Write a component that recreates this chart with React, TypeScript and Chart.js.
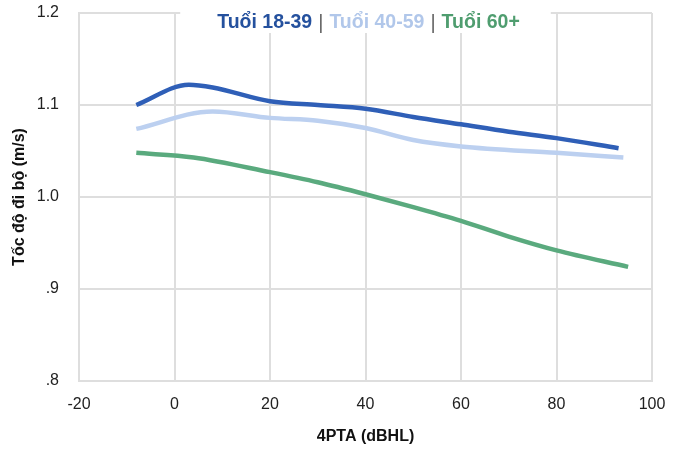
import React, { useEffect, useRef } from "react";
import { Chart, registerables, Plugin } from "chart.js";

Chart.register(...registerables);

const seriesLabels = ["Tuổi 18-39", "Tuổi 40-59", "Tuổi 60+"];
const lineColors = ["#2f5fb7", "#bcd0f0", "#5aaa7e"];
const textColors = ["#25519e", "#b1c7ea", "#4f9d6f"];

const xYoung = [-8, 3, 8, 20, 30, 40, 50, 60, 70, 80, 93];
const yYoung = [1.1, 1.122, 1.119, 1.104, 1.1, 1.096, 1.087, 1.079, 1.071, 1.064, 1.053];

const xMiddle = [-8, 8, 20, 30, 40, 50, 60, 80, 94];
const yMiddle = [1.074, 1.093, 1.086, 1.083, 1.075, 1.062, 1.055, 1.048, 1.043];

const xOld = [-8, 4, 20, 30, 40, 50, 60, 70, 80, 95];
const yOld = [1.048, 1.043, 1.027, 1.016, 1.003, 0.989, 0.974, 0.957, 0.942, 0.924];

const xTicks = [-20, 0, 20, 40, 60, 80, 100];
const yTicks = [0.8, 0.9, 1.0, 1.1, 1.2];

const FONT = "'Liberation Sans', Arial, Helvetica, sans-serif";

const toPoints = (xs: number[], ys: number[]) => xs.map((x, i) => ({ x, y: ys[i] }));

// legend drawn on top of the plot with a white box behind it
const topLegend: Plugin<"line"> = {
  id: "topLegend",
  afterDraw(chart) {
    const { ctx, chartArea } = chart;
    ctx.save();
    const boldFont = `bold 19.5px ${FONT}`;
    const sepFont = `20px ${FONT}`;
    const gap = 6;
    ctx.font = boldFont;
    const widths = seriesLabels.map((s) => ctx.measureText(s).width);
    ctx.font = sepFont;
    const sepW = ctx.measureText("|").width;
    const total = widths.reduce((a, b) => a + b, 0) + 2 * (sepW + 2 * gap);
    const cx = (chartArea.left + chartArea.right) / 2 + 3;
    let x = cx - total / 2;
    ctx.fillStyle = "#ffffff";
    ctx.fillRect(x - 37, 0, total + 68, 33);
    ctx.textBaseline = "alphabetic";
    ctx.textAlign = "left";
    seriesLabels.forEach((s, i) => {
      ctx.font = boldFont;
      ctx.fillStyle = textColors[i];
      ctx.fillText(s, x, 28);
      x += widths[i];
      if (i < seriesLabels.length - 1) {
        x += gap;
        ctx.font = sepFont;
        ctx.fillStyle = "#666666";
        ctx.fillText("|", x, 29);
        x += sepW + gap;
      }
    });
    ctx.restore();
  },
};

const App: React.FC = () => {
  const canvasRef = useRef<HTMLCanvasElement | null>(null);

  useEffect(() => {
    if (!canvasRef.current) return;
    const ctx = canvasRef.current.getContext("2d");
    if (!ctx) return;

    const series = [toPoints(xYoung, yYoung), toPoints(xMiddle, yMiddle), toPoints(xOld, yOld)];

    const chart = new Chart(ctx, {
      type: "line",
      data: {
        datasets: series.map((pts, i) => ({
          label: seriesLabels[i],
          data: pts,
          borderColor: lineColors[i],
          backgroundColor: lineColors[i],
          borderWidth: 4.5,
          pointRadius: 0,
          tension: 0.4,
          cubicInterpolationMode: "monotone" as const,
          borderCapStyle: "butt" as const,
        })),
      },
      options: {
        animation: false,
        responsive: false,
        maintainAspectRatio: false,
        layout: { padding: { top: 13, right: 28, left: 0, bottom: 0 } },
        plugins: {
          legend: { display: false },
          tooltip: { enabled: false },
        },
        scales: {
          x: {
            type: "linear",
            min: -20,
            max: 100,
            afterBuildTicks: (scale) => {
              scale.ticks = xTicks.map((v) => ({ value: v }));
            },
            afterFit: (scale) => {
              scale.height = 79;
              scale.paddingLeft = 0;
              scale.paddingRight = 0;
            },
            grid: { color: "#dedede", lineWidth: 2, drawTicks: false },
            border: { color: "#dedede", width: 2 },
            ticks: {
              color: "#222",
              font: { family: FONT, size: 16 },
              padding: 14,
              callback: (v) => String(v),
            },
            title: {
              display: true,
              text: "4PTA (dBHL)",
              color: "#111",
              font: { family: FONT, size: 16, weight: "bold" },
              padding: { top: 0, bottom: 14 },
            },
          },
          y: {
            type: "linear",
            min: 0.8,
            max: 1.2,
            afterBuildTicks: (scale) => {
              scale.ticks = yTicks.map((v) => ({ value: v }));
            },
            afterFit: (scale) => {
              scale.width = 79;
              scale.paddingTop = 0;
              scale.paddingBottom = 0;
            },
            grid: { color: "#dedede", lineWidth: 2, drawTicks: false },
            border: { color: "#dedede", width: 2 },
            ticks: {
              color: "#222",
              font: { family: FONT, size: 16 },
              padding: 20,
              callback: (v) => {
                const n = Number(v);
                const s = n.toFixed(1);
                return n < 1 ? s.replace(/^0/, "") : s;
              },
            },
            title: {
              display: true,
              text: "Tốc độ đi bộ (m/s)",
              color: "#111",
              font: { family: FONT, size: 16, weight: "bold" },
              padding: { top: 10, bottom: 0 },
            },
          },
        },
      },
      plugins: [topLegend],
    });

    return () => {
      chart.destroy();
    };
  }, []);

  return (
    <div style={{ position: "fixed", left: 0, top: 0, width: 680, height: 460, background: "#fff" }}>
      <canvas ref={canvasRef} width={680} height={460} style={{ width: 680, height: 460 }} />
    </div>
  );
};

export default App;
